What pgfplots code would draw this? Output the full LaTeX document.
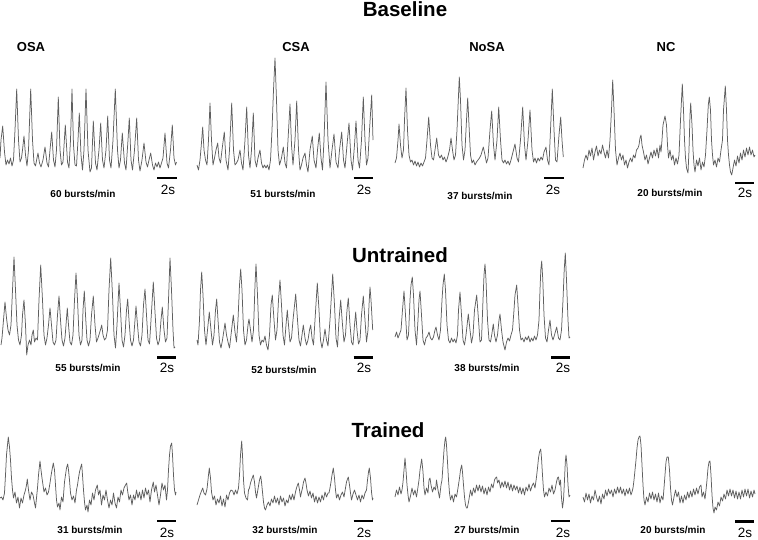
\documentclass[border=0pt]{standalone}
\usepackage{pgfplots}
\pgfplotsset{compat=1.18}
\usepackage{fontspec}
\setmainfont{Liberation Sans}
\definecolor{trace}{RGB}{95,95,95}
\pgfplotsset{tr/.style={color=trace, solid, mark=none, line width=0.75pt, line join=round}}
\begin{document}
\begin{tikzpicture}
\path[use as bounding box] (0,0) rectangle (758pt,539pt);
\begin{axis}[
  at={(0,0)}, anchor=south west,
  width=758pt, height=539pt, scale only axis,
  xmin=0, xmax=758, ymin=0, ymax=539, y dir=reverse,
  hide axis, clip=false,
]
% ---------- Baseline OSA ----------
\addplot[tr] coordinates {(0,158)(1,140)(2.7,126)(4.5,152)(6,165)(7.5,160)(9,164)(10.5,158)(12,166)(13.5,160)(15,130)(16.7,89)(18.5,140)(20,162)(21.5,158)(22.5,150)(24,136)(25.5,155)(27,166)(28.5,150)(30.7,89)(32.5,140)(34,163)(35.5,166)(37,158)(38,153)(39.5,163)(41,167)(43,160)(45,147)(47,163)(48.5,167)(50,150)(51.7,132)(53.5,160)(55,167)(56.5,150)(58.3,97)(60,150)(61.5,165)(63,162)(65.3,125)(67.5,162)(69,168)(70.5,140)(72,89)(73.5,145)(75,165)(76.5,166)(78,140)(79.3,113)(81,155)(82.5,170)(84,150)(86,89)(88,150)(90,172)(91.5,168)(93.3,121)(95.5,163)(97,170)(99,150)(100.7,123)(102.5,160)(104,168)(106,150)(107.7,116)(109.5,160)(111,168)(113,140)(115.3,89)(117.5,150)(119,168)(120.5,160)(122.3,133)(124.5,163)(126,170)(128,140)(129.3,118)(131,160)(132.5,170)(134.5,150)(136.7,118)(138.5,160)(140,171)(142,160)(144,143)(146,162)(147.5,167)(149,160)(150.7,153)(152.5,165)(154,170)(155.5,163)(157,167)(158.5,162)(160,168)(161.5,163)(163,158)(165,133)(167,163)(168.5,168)(170.5,150)(172.3,125)(174,158)(175.5,165)(176.5,162)};
% ---------- Baseline CSA ----------
\addplot[tr] coordinates {(197,165)(198.5,170)(200,160)(201.3,145)(202.7,127)(204,150)(205.5,160)(207,165)(208.5,140)(210,103)(211.5,140)(213,165)(214.5,158)(216,150)(217.7,143)(219,158)(220.5,163)(222,150)(224.3,132)(226,160)(228,170)(229.5,150)(231.7,103)(233.5,150)(235,165)(236.5,163)(238,160)(240,150)(241.5,163)(243,170)(245,140)(246.7,107)(248.5,155)(250,168)(251.5,150)(253.3,113)(255,160)(256.5,167)(258,158)(260,150)(261.5,163)(263,168)(264.5,165)(266,168)(267.5,165)(269,170)(270.5,160)(272,130)(273.5,90)(275,58)(276.5,100)(278,150)(279.5,165)(281.5,158)(283.3,147)(285,163)(286.5,168)(288,140)(290,104)(291.5,145)(293,165)(295,140)(296.7,101)(298.5,150)(300,170)(301.5,165)(303,158)(305,153)(306.5,165)(308,172)(310,150)(312.3,136)(314,160)(316,168)(317.5,150)(319.3,133)(321,158)(322.5,170)(324,140)(326,82)(328,140)(330,168)(332,150)(334,134)(336,162)(338,168)(339.5,150)(341.7,132)(343.5,160)(345,168)(347,145)(349,123)(351,160)(352.5,170)(354.5,145)(356,121)(358,160)(359.5,168)(361.5,140)(363.3,97)(365,140)(366.5,165)(368,158)(369.5,130)(371.7,95)(373,140)};
% ---------- Baseline NoSA ----------
\addplot[tr] coordinates {(395,163)(396.5,158)(398,140)(399,124)(400.5,145)(402,158)(403.5,150)(404.5,120)(406,88)(407.5,130)(409,155)(410.5,162)(412,160)(413.5,165)(415,161)(416.5,166)(418,162)(419.5,167)(421,163)(422.5,166)(424,162)(425.5,158)(427,140)(428.7,117)(430.5,145)(432,158)(433.5,160)(435,150)(436.7,138)(438.5,155)(440,158)(441.5,155)(443,160)(444.5,157)(446,162)(447.5,158)(449.5,150)(451,138)(452.5,150)(454,160)(455.5,155)(457,130)(458.3,100)(459.3,77)(460.5,100)(462,145)(463.5,160)(465,150)(466.5,120)(467.7,98)(469,125)(470.5,155)(472,163)(473.5,160)(475,165)(476.5,162)(478,160)(479.5,158)(481,155)(483.3,147)(485,155)(486.5,163)(488,158)(490,130)(491.7,111)(493.5,145)(495,160)(497,140)(498.7,107)(500.5,140)(502,160)(503.5,163)(505,160)(506.5,164)(508,161)(509.5,165)(511,160)(513,152)(515,144)(517,158)(518.5,162)(520.5,140)(522.7,107)(524.5,145)(526,160)(528,140)(530,110)(532,150)(533.5,162)(535,158)(536.5,163)(538,158)(539.5,161)(541,157)(542.5,160)(544,152)(546,147)(547.5,160)(549,165)(550.5,130)(552.3,89)(554,130)(555.5,160)(557,162)(559,135)(560.7,117)(562,140)(563.3,157)};
% ---------- Baseline NC ----------
\addplot[tr] coordinates {(583,168)(584.5,160)(586,155)(587.5,160)(589,150)(590.5,156)(592,148)(593.5,160)(595,152)(596.5,146)(598,156)(599.5,150)(601,154)(602.5,145)(604,152)(605.5,158)(607,150)(608.5,158)(610,140)(611.5,110)(612.7,80)(614,110)(615.5,150)(617,165)(618.5,158)(620,153)(621.5,160)(623,155)(624.5,165)(626,160)(627.5,168)(629,162)(630.5,158)(632,162)(633.5,155)(635,158)(636.5,150)(638,148)(639,145)(640,138)(641,135)(642,145)(643.5,152)(645,160)(646.5,155)(648,164)(649.5,158)(651,152)(652.5,158)(654,150)(655.5,156)(657,148)(658.5,158)(660,145)(661,152)(662,140)(663,125)(665,116)(666.5,125)(667.5,145)(668.5,158)(670,150)(671.5,160)(673,155)(674.5,165)(676,158)(677.5,164)(679,155)(680.5,120)(681.5,100)(682.3,84)(683.5,110)(684.5,140)(685.5,158)(686.5,168)(688,173)(689,150)(690,115)(690.7,103)(692,125)(693,150)(694,165)(695,172)(696.5,160)(698,166)(699.5,158)(701,170)(702.5,162)(704,167)(705.5,155)(707,130)(708.3,105)(709.3,97)(710.5,110)(711.5,140)(712.5,155)(713.5,165)(715,160)(716.5,167)(718,158)(719.5,162)(721,150)(722.5,140)(723.5,110)(725.3,86)(726.5,110)(727.5,140)(728.5,155)(729.5,165)(730.5,172)(731.7,175)(733,168)(734.5,160)(736,166)(737.5,156)(739,163)(740.5,153)(742,160)(743.5,150)(745,157)(746.5,148)(748,155)(749.5,147)(751,155)(752.5,150)(754,157)(755,155)};
% ---------- Untrained OSA ----------
\addplot[tr] coordinates {(1,345)(2,338)(3.5,320)(5,302)(6.5,318)(8,330)(9.5,335)(11,325)(12.5,290)(14,257)(15.5,290)(17,325)(18.5,340)(20,345)(21.5,335)(22.5,315)(24,300)(25.5,325)(26.7,355)(28,345)(29.5,340)(31,345)(32,335)(33.3,330)(34.5,342)(36,338)(37.5,340)(39,300)(40.7,265)(42.5,300)(44,335)(45.5,345)(47,338)(48.5,325)(50,308)(51.5,325)(53,342)(54.5,345)(56,340)(57.5,315)(59,296)(60.5,320)(62,340)(63.5,346)(65,338)(66,325)(67.3,308)(68.5,325)(70,342)(71.5,345)(73,335)(74.5,300)(76,273)(77.5,300)(79,335)(80.5,345)(82,340)(83,310)(84.3,291)(85.5,315)(87,340)(88.5,346)(90,340)(91.5,315)(93.3,296)(95,325)(96.5,342)(98,338)(99.5,333)(101,328)(101.7,325)(103,335)(104.5,340)(106,338)(107.5,330)(109,290)(110.7,258)(112.5,295)(114,335)(115.5,348)(117,325)(119,283)(120.5,310)(122,340)(123.5,347)(125,335)(126.5,310)(127.7,299)(129,320)(130.5,340)(132,346)(133.5,340)(135,320)(136,306)(137.5,325)(139,342)(140.5,346)(142,335)(143.5,305)(145,289)(146.5,315)(148,340)(149.5,344)(151,320)(153.3,282)(155,312)(156.5,338)(158,345)(159.5,340)(161,320)(162.3,307)(164,330)(165.5,342)(167,338)(168.5,300)(170,258)(171.5,290)(173,330)(174,348)(175,347)};
% ---------- Untrained CSA ----------
\addplot[tr] coordinates {(197,340)(198,345)(199.5,320)(200.5,290)(201.7,272)(203,295)(204.5,330)(206,345)(207.5,330)(209.3,312)(211,330)(212.5,345)(214,335)(215.5,310)(216.7,299)(218,320)(219.5,342)(221,348)(222.5,340)(224,330)(225,323)(226.5,335)(228,342)(229.5,348)(231,335)(233.3,315)(235,332)(236.5,342)(238,320)(239.5,285)(240.7,269)(242,290)(243.5,330)(245,345)(246.5,340)(248,325)(249,319)(250.5,330)(252,342)(253.5,330)(255,285)(256,264)(257.5,295)(259,335)(260.5,345)(262,340)(263.5,342)(265,336)(266.5,345)(268,350)(269.5,335)(271,305)(272.3,295)(274,320)(275.5,340)(277,330)(278.5,300)(280,280)(281.5,305)(283,335)(284.5,345)(286,325)(287.3,310)(288.5,325)(290,342)(291.5,338)(293,320)(295.7,294)(297.5,320)(299,340)(300.5,346)(302,335)(303.3,325)(305,338)(306.5,345)(308,340)(309.5,330)(310.7,325)(312,338)(313.5,345)(315,320)(317.3,283)(319,310)(320.5,340)(322,348)(323.5,340)(325,329)(326.5,340)(328,346)(330,320)(332.7,274)(334.5,305)(336,338)(337.5,347)(339,320)(340.7,300)(342.5,325)(344,342)(345.5,335)(347,310)(348.3,298)(350,325)(351.5,342)(353,345)(354.5,325)(355.7,312)(357,330)(358.5,344)(360,340)(361.5,315)(363.3,296)(365,320)(366.5,342)(368,330)(369,305)(370,287)(371,300)(372.7,330)};
% ---------- Untrained NoSA ----------
\addplot[tr] coordinates {(395,337)(396.5,332)(398,338)(399.5,334)(401,330)(402.5,310)(404,291)(405.5,315)(407,340)(408.5,335)(410,300)(411,285)(412.3,277)(413.5,295)(415,330)(416.5,345)(418,320)(419,300)(420,291)(421.5,315)(423,340)(424.5,345)(426,338)(427.5,336)(429,332)(430.5,338)(432,340)(433.5,337)(435,330)(436,327)(437.5,335)(439,340)(440.5,330)(442,300)(443,285)(444.3,274)(445.5,290)(447,325)(448.5,340)(450,343)(451.5,338)(453,342)(454.5,339)(456,343)(457.5,335)(458.5,310)(460,292)(461.5,315)(463,340)(464.5,345)(466,335)(468.3,314)(470,330)(471.5,343)(473,335)(474.5,310)(476.7,295)(478.5,320)(480,342)(481.5,340)(483,300)(484,275)(485,264)(486,280)(487.5,320)(489,340)(490.5,342)(492,333)(493.3,324)(494.5,335)(496,342)(497.5,335)(499,320)(500,314)(501.5,330)(503,342)(505,350)(506.5,342)(508,338)(509.5,341)(511,335)(512.5,330)(514,310)(515,295)(516.7,285)(518,305)(519.5,330)(521,340)(522.5,338)(524,342)(525.5,337)(527,340)(528.5,336)(530,342)(531.5,338)(533,341)(534.5,336)(536,340)(537.5,335)(539,320)(540,290)(540.8,270)(541.7,261)(542.8,280)(544,315)(545.5,338)(547,342)(548.5,330)(550,320)(551.5,335)(553,340)(554.5,335)(556.7,327)(558.5,338)(560,340)(561.5,330)(563,300)(564.2,270)(565.3,253)(566.5,280)(568,320)(569,338)(570,337)};
% ---------- Trained OSA ----------
\addplot[tr] coordinates {(0,498)(1.5,497)(3,500)(4.5,493)(5.5,475)(6.5,455)(7.5,445)(8.3,437)(9.5,447)(10.5,460)(11.5,478)(12.5,490)(13.5,498)(15,492)(16.5,503)(18,497)(19.5,508)(21,498)(22.5,503)(24,495)(25.5,490)(26.5,485)(27.3,479)(28.5,490)(30,500)(31.5,492)(33,495)(34.5,503)(35.5,508)(36.5,498)(37.5,488)(38.5,475)(40,461)(41,470)(42,478)(43,485)(44,492)(45.5,488)(47,495)(48.5,492)(50,483)(51,476)(52,470)(53.3,463)(54.5,470)(55.5,485)(56.5,500)(57.5,507)(59,503)(60,510)(61.5,497)(63,502)(64.5,482)(65.5,475)(66.5,468)(67.7,464)(68.5,470)(69.5,480)(70.5,493)(72,500)(73.5,496)(75,503)(76.5,490)(77.5,485)(78.5,478)(79.5,472)(80.5,468)(81.7,464)(82.5,475)(83.5,490)(84.5,502)(85.5,510)(87,505)(88,512)(89.5,500)(91,505)(92.5,493)(94,500)(95.5,490)(97.3,485)(98.5,495)(100,490)(101.5,505)(103,495)(104.5,500)(106,490)(107.5,500)(109,508)(110.5,500)(112,505)(113.5,493)(115,503)(116.5,508)(118,497)(119.5,502)(121,490)(122.5,495)(124,488)(125.5,485)(126.7,483)(127.5,490)(129,500)(130.5,495)(132,505)(133.5,495)(135,500)(136.5,490)(138,498)(139.5,492)(141,500)(142.5,490)(144,498)(145.5,488)(147,495)(148.5,490)(150,502)(151.5,490)(153.3,482)(154.5,492)(156,485)(157.5,495)(159,505)(160.5,495)(162,483)(163.5,490)(165,485)(166.5,500)(167.5,490)(168.5,470)(169.5,455)(170.5,446)(171.7,443)(172.5,455)(173.5,475)(174.5,490)(175.5,495)(176,492)};
% ---------- Trained CSA ----------
\addplot[tr] coordinates {(197,505)(198.5,500)(200,495)(201.5,491)(202.7,488)(204,493)(205.5,495)(207,489)(208.5,475)(209.3,468)(210.5,478)(211.5,492)(213,500)(214.5,496)(216,505)(217.5,499)(219,503)(220.5,496)(222,506)(223.5,499)(225,507)(226.5,495)(228,500)(229.5,493)(231,490)(232.7,491)(234,495)(235.5,490)(237,494)(238.5,488)(239.5,475)(240.5,455)(241.7,441)(242.5,455)(243.5,480)(244.5,493)(246,498)(247.5,500)(248.5,490)(249.5,488)(250.5,483)(251.5,480)(253.3,475)(254.5,482)(255.5,492)(256.5,498)(257.5,492)(258.5,486)(259.5,480)(260.7,476)(261.5,482)(262.5,492)(263.5,502)(264.5,508)(265.5,510)(267,505)(268.5,502)(270,506)(271.5,499)(273,503)(274.5,496)(276,503)(277.5,498)(279,505)(280.5,496)(282,502)(283.5,498)(285,506)(286.5,500)(288,503)(289.5,495)(291,500)(292.5,494)(294,500)(295.5,492)(296.5,488)(297.5,485)(298.3,483)(299.5,490)(300.5,497)(301.5,492)(302.5,488)(303.5,482)(305,478)(306,483)(307,490)(308.5,496)(310,491)(311.5,498)(313,493)(314.5,502)(316,496)(317.5,503)(319,497)(320.5,502)(322,495)(323.5,500)(325,492)(326.5,497)(328,493)(329,493)(330,488)(331,482)(332,475)(333.3,468)(334.5,478)(335.5,490)(336.5,498)(338,494)(339.5,500)(341,495)(342.5,492)(344,497)(345.5,488)(346.5,482)(347.5,479)(348.3,477)(349.5,485)(350.5,493)(351.5,500)(353,494)(354.5,490)(356,495)(357.5,500)(359,495)(360.5,502)(362,495)(363.5,499)(365,493)(366.5,490)(367.5,480)(368.5,472)(369.3,468)(370.5,478)(371.5,492)(372.5,500)(373,498)};
% ---------- Trained NoSA ----------
\addplot[tr] coordinates {(395,497)(396.5,490)(398,495)(399.5,487)(401,494)(402,490)(403,482)(404,470)(405,458)(406,470)(407,485)(408,495)(409,502)(410.5,496)(412,488)(413.5,495)(415,490)(416.5,497)(418,487)(419,480)(420,470)(421.7,459)(423,472)(424,488)(425,495)(426.5,488)(428,493)(429,480)(430,478)(431,485)(432.5,492)(434,487)(435.5,490)(436.5,480)(438,490)(439.5,498)(441,485)(442,480)(443,465)(444,450)(445,440)(445.7,437)(446.5,445)(447.5,462)(448.5,480)(449.5,493)(450.5,500)(452,495)(453.5,502)(455,494)(456.5,497)(458,488)(459.5,478)(460.5,470)(461.7,465)(462.5,472)(463.5,485)(464.5,497)(465.5,505)(466.5,508)(467.3,508)(468.5,502)(469.5,496)(470.5,490)(472,496)(473.5,488)(475,493)(476.5,485)(478,491)(479.5,485)(481,492)(482.5,486)(484,494)(485.5,488)(487,495)(488.5,487)(490,492)(491.5,484)(493,488)(494.5,480)(495.5,478)(496.7,477)(497.5,483)(499,480)(500.5,488)(502,482)(503.5,487)(505,481)(506.5,488)(508,482)(509.5,490)(511,484)(512.5,491)(514,485)(515.5,490)(517,486)(518.5,493)(520,487)(521.5,494)(523,488)(524.5,495)(526,487)(527.5,491)(529,484)(530.5,491)(532,486)(533.5,483)(535,488)(536.5,477)(537.5,468)(538.5,458)(539.5,452)(540.7,449)(541.5,458)(542.5,475)(543.5,490)(544.5,497)(546,492)(547.5,496)(549,488)(550.5,492)(552,485)(553.5,494)(555,490)(556.5,482)(557.5,478)(558.5,477)(559.5,485)(560.5,480)(561.5,498)(562.5,508)(563.5,500)(564.5,480)(565.3,462)(566,455)(567,465)(568,485)(569,497)(570,495)};
% ---------- Trained NC ----------
\addplot[tr] coordinates {(583,497)(584.5,502)(586,493)(587.5,500)(589,494)(590.5,503)(592,496)(593.5,500)(595,490)(596.5,497)(598,502)(599.5,496)(601,504)(602.5,494)(604,499)(605.5,490)(607,496)(608.5,489)(610,494)(611.5,490)(613,497)(614.5,489)(616,494)(617.5,487)(619,493)(620.5,487)(622,494)(623.5,489)(625,496)(626.5,489)(628,494)(629.5,488)(631,495)(632,492)(633,488)(634,480)(635,470)(636,460)(637,448)(638,440)(639,437)(640,436)(641,445)(642,465)(643,485)(644,500)(645,505)(646.5,497)(648,502)(649.5,493)(651,499)(652.5,492)(654,500)(655.5,494)(657,502)(658.5,493)(660,503)(661.5,496)(663,500)(664,488)(665,475)(666,462)(667,457)(668.3,457)(669.5,470)(670.5,488)(671.5,500)(672.5,505)(674,497)(675.5,490)(677,497)(678.5,492)(680,503)(681.5,496)(683,503)(684.5,495)(686,500)(687.5,492)(689,498)(690.5,491)(692,497)(693.5,489)(695,495)(696.5,488)(698,494)(699.5,487)(701,485)(702,497)(703.5,492)(705,499)(706,490)(707,480)(708,468)(709,462)(710,461)(711,475)(712,495)(713,508)(714,513)(715,507)(716.5,510)(718,502)(719.5,506)(721,497)(722.5,501)(724,494)(725.5,499)(727,490)(728.5,496)(730,489)(731.5,496)(733,490)(734.5,498)(736,491)(737.5,499)(739,492)(740.5,499)(742,490)(743.5,497)(745,489)(746.5,496)(748,489)(749.5,498)(751,491)(752.5,497)(754,490)(755,494)};
% ---------- 2 s scale bars ----------
\addplot[black, line width=2.6pt] coordinates {(157,178)(176.5,178)};
\addplot[black, line width=2.6pt] coordinates {(353.5,178)(373,178)};
\addplot[black, line width=2.6pt] coordinates {(544,178)(564,178)};
\addplot[black, line width=2.6pt] coordinates {(735,183)(754,183)};
\addplot[black, line width=2.6pt] coordinates {(157,357.5)(176,357.5)};
\addplot[black, line width=2.6pt] coordinates {(353.5,357.5)(373,357.5)};
\addplot[black, line width=2.6pt] coordinates {(551,357.5)(570,357.5)};
\addplot[black, line width=2.6pt] coordinates {(157,521)(176,521)};
\addplot[black, line width=2.6pt] coordinates {(353.5,521)(373,521)};
\addplot[black, line width=2.6pt] coordinates {(551,521)(570,521)};
\addplot[black, line width=2.6pt] coordinates {(735,521.5)(754,521.5)};
% ---------- texts ----------
\tikzset{ttl/.style={font=\fontsize{20.5}{22}\selectfont\bfseries},
         hdr/.style={font=\fontsize{13}{14}\selectfont\bfseries},
         bst/.style={font=\fontsize{10}{11}\selectfont\bfseries},
         sec/.style={font=\fontsize{13.5}{14}\selectfont}}
\node[ttl] at (axis cs:405,9) {Baseline};
\node[ttl] at (axis cs:400,255) {Untrained};
\node[ttl] at (axis cs:388,430) {Trained};
\node[hdr] at (axis cs:31,47) {OSA};
\node[hdr] at (axis cs:296,47) {CSA};
\node[hdr] at (axis cs:487,47) {NoSA};
\node[hdr] at (axis cs:666,47) {NC};
\node[bst] at (axis cs:83,194) {60 bursts/min};
\node[bst] at (axis cs:283,194) {51 bursts/min};
\node[bst] at (axis cs:480,196) {37 bursts/min};
\node[bst] at (axis cs:670,193) {20 bursts/min};
\node[bst] at (axis cs:88,368) {55 bursts/min};
\node[bst] at (axis cs:284,370) {52 bursts/min};
\node[bst] at (axis cs:487,368) {38 bursts/min};
\node[bst] at (axis cs:90,530) {31 bursts/min};
\node[bst] at (axis cs:285,530) {32 bursts/min};
\node[bst] at (axis cs:487,530) {27 bursts/min};
\node[bst] at (axis cs:673,530) {20 bursts/min};
\node[sec] at (axis cs:168,190) {2s};
\node[sec] at (axis cs:364,190) {2s};
\node[sec] at (axis cs:553,190) {2s};
\node[sec] at (axis cs:745,193) {2s};
\node[sec] at (axis cs:167,368) {2s};
\node[sec] at (axis cs:364,368) {2s};
\node[sec] at (axis cs:563,368) {2s};
\node[sec] at (axis cs:167,533) {2s};
\node[sec] at (axis cs:364,533) {2s};
\node[sec] at (axis cs:563,533) {2s};
\node[sec] at (axis cs:745,533) {2s};
\end{axis}
\end{tikzpicture}
\end{document}
